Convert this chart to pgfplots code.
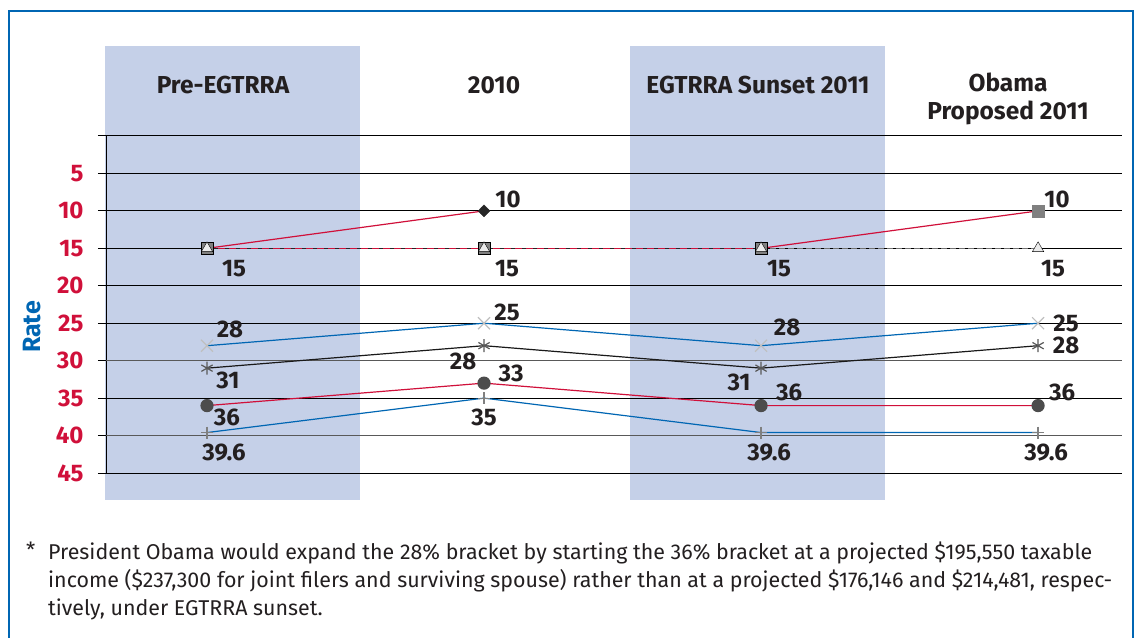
\documentclass[border=0pt]{standalone}
\usepackage{pgfplots}
\usepackage{pgfplotstable}
\pgfplotsset{compat=1.18}
\usepackage{fontspec}
\setmainfont{Fira Sans}
\definecolor{crim}{RGB}{208,16,58}
\definecolor{blu}{RGB}{0,102,179}
\definecolor{bandc}{RGB}{197,208,232}
\definecolor{txt}{RGB}{35,31,32}
\newcommand{\lblfont}{\fontsize{24}{24}\selectfont\bfseries}

\pgfplotstableread{
x y dx dy lab
0 15 27 -20 15
1 15 23 -20 15
2 15 18 -20 15
3 15 15 -20 15
}\tfifteen
\pgfplotstableread{
x y dx dy lab
1 10 24 11 10
}\ttenA
\pgfplotstableread{
x y dx dy lab
3 10 19 11 10
}\ttenB
\pgfplotstableread{
x y dx dy lab
0 28 23 16 28
1 25 23 11 25
2 28 26 18 28
3 25 28 0 25
}\ttwentyfive
\pgfplotstableread{
x y dx dy lab
0 31 21 -12 31
1 28 -21 -16 28
2 31 -22 -14 31
3 28 28 0 28
}\ttwentyeight
\pgfplotstableread{
x y dx dy lab
0 36 20 -12 36
1 33 27 9.5 33
2 36 28 13 36
3 36 24 13 36
}\tthirtythree
\pgfplotstableread{
x y dx dy lab
0 39.6 17 -20 39.6
1 35 0 -19.5 35
2 39.6 8 -20 39.6
3 39.6 8 -20 39.6
}\tthirtyfive

\pgfplotsset{
 lbl/.style={nodes near coords, point meta=explicit symbolic,
   visualization depends on={\thisrow{dx}\as\ddx},
   visualization depends on={\thisrow{dy}\as\ddy},
   nodes near coords style={anchor=center, xshift=\ddx pt, yshift=\ddy pt, font=\lblfont, text=txt, inner sep=0pt}},
}

\begin{document}
\begin{tikzpicture}[x=1pt,y=1pt]
\useasboundingbox (0,0) rectangle (1137,637);
\draw[blu, line width=1.2pt] (9,-5) -- (9,626) -- (1133,626) -- (1133,-5);
% shaded column bands
\fill[bandc] (105,137) rectangle (360,591);
\fill[bandc] (630,137) rectangle (885,591);
\begin{axis}[at={(106pt,164pt)}, anchor=south west, scale only axis,
  width=1016pt, height=337pt,
  xmin=-0.3646, xmax=3.303, ymin=0, ymax=45, y dir=reverse,
  axis x line=none, axis y line=left, axis line style={-, black, line width=1pt},
  ytick={0,5,10,15,20,25,35,45}, yticklabels={,5,10,15,20,25,35,45},
  extra y ticks={30,40}, extra y tick labels={30,40},
  ymajorgrids, grid style={black, line width=1pt},
  extra y tick style={grid style={black!65, line width=1pt}},
  tick align=outside, major tick length=8pt, tick style={black, line width=1pt},
  yticklabel style={font=\fontsize{24}{24}\selectfont\bfseries, text=crim, xshift=-11pt},
  clip=false,
]
% 15% bracket lines
\addplot[black!85, line width=1.6pt, no marks] coordinates {(0,15) (1,15) (2,15)};
\addplot[crim, line width=1.6pt, no marks, dash pattern=on 7pt off 4pt] coordinates {(0,15) (1,15) (2,15)};
\addplot[black!55, line width=1.5pt, no marks, dash pattern=on 6pt off 3pt] coordinates {(2,15) (3,15)};
% 10% bracket lines
\addplot[crim, line width=1.2pt, no marks] coordinates {(0,15) (1,10)};
\addplot[crim, line width=1.2pt, no marks] coordinates {(2,15) (3,10)};
% other brackets
\addplot[blu, line width=1.2pt, mark=x, mark size=8.5pt, mark options={black!25, line width=1.2pt, solid}, lbl] table[meta=lab] {\ttwentyfive};
\addplot[black!90, line width=1.2pt, mark=asterisk, mark size=6.5pt, mark options={black!65, line width=1.2pt, solid}, lbl] table[meta=lab] {\ttwentyeight};
\addplot[crim, line width=1.2pt, mark=*, mark size=6pt, mark options={fill=black!70, draw=black!70}, lbl] table[meta=lab] {\tthirtythree};
\addplot[blu, line width=1.2pt, mark=+, mark size=6pt, mark options={black!50, line width=1.2pt}, lbl] table[meta=lab] {\tthirtyfive};
% markers 15 and 10
\addplot[only marks, mark=square*, mark size=6.3pt, mark options={fill=black!50, draw=none}] coordinates {(0,15) (1,15) (2,15)};
\addplot[only marks, mark=triangle*, mark size=6.5pt, mark options={fill=black!8, draw=none}, lbl] table[meta=lab] {\tfifteen};
\addplot[only marks, mark=diamond*, mark size=6pt, mark options={fill=black!85, draw=black!85, xscale=1.3}, lbl] table[meta=lab] {\ttenA};
\addplot[only marks, mark=square*, mark size=6pt, mark options={fill=black!50, draw=black!50}, lbl] table[meta=lab] {\ttenB};
\end{axis}
% y label
\node[rotate=90, text=blu, font=\fontsize{25}{25}\selectfont\bfseries] at (32,310) {Rate};
% column headers
\begin{scope}[every node/.style={text=txt, font=\fontsize{24.5}{28}\selectfont\bfseries, align=center}]
\node at (223,552) {Pre-EGTRRA};
\node at (494,552) {2010};
\node at (758,552) {EGTRRA Sunset 2011};
\node at (1008,538) {Obama\\Proposed 2011};
\end{scope}
% footnote
\node[text=txt, font=\fontsize{21}{21}\selectfont, anchor=base west, inner sep=0pt] at (26,79) {*};
\node[text=txt, font=\fontsize{21.4}{28}\selectfont, anchor=north west, align=left, inner sep=0pt] at (48,95)
{President Obama would expand the 28\% bracket by starting the 36\% bracket at a projected \$195,550 taxable\\
income (\$237,300 for joint filers and surviving spouse) rather than at a projected \$176,146 and \$214,481, respec-\\
tively, under EGTRRA sunset.};
\end{tikzpicture}
\end{document}
